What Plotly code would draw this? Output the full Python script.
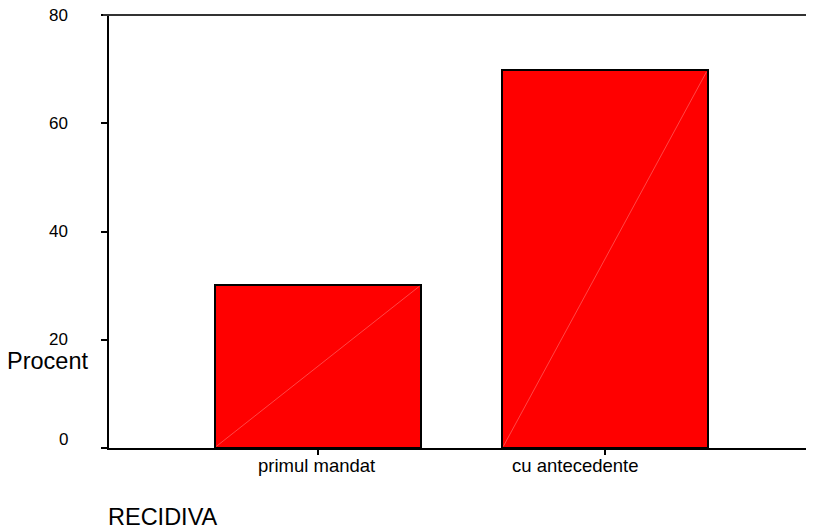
import plotly.graph_objects as go

categories = ["primul mandat", "cu antecedente"]
values = [30.2, 69.8]
y_ticks = [0, 20, 40, 60, 80]
y_tick_labels = ["0", "20", "40", "60", "80"]
y_title = "Procent"
x_title = "RECIDIVA"

FONT = "Arial, Liberation Sans, sans-serif"
BAR_W = 0.718
xs = list(range(len(categories)))

fig = go.Figure()
fig.add_trace(go.Bar(
    x=xs, y=values, width=BAR_W,
    marker=dict(color="#ff0000", line=dict(color="black", width=2)),
    hoverinfo="skip", showlegend=False,
))
# faint diagonal inside each bar (from bottom-left to top-right)
for xi, v in zip(xs, values):
    fig.add_trace(go.Scatter(
        x=[xi - BAR_W / 2 + 0.005, xi + BAR_W / 2 - 0.005], y=[0.3, v - 0.3],
        mode="lines", line=dict(color="rgba(255,140,140,0.5)", width=1),
        hoverinfo="skip", showlegend=False,
    ))

# y tick labels as annotations (SPSS-like placement)
for tv, tl in zip(y_ticks, y_tick_labels):
    fig.add_annotation(
        x=0, xref="paper", y=tv, yref="y", text=tl, showarrow=False,
        xanchor="right", yanchor="middle", xshift=-39,
        yshift=9 if tv == 0 else 0,
        font=dict(family=FONT, size=17, color="black"),
    )

# x tick labels as annotations
x_label_shift = [-1, -29]
for xi, lab, sh in zip(xs, categories, x_label_shift):
    fig.add_annotation(
        x=xi, xref="x", y=0, yref="paper", text=lab, showarrow=False,
        xanchor="center", yanchor="top", xshift=sh, yshift=-5,
        font=dict(family=FONT, size=18.5, color="black"),
    )

fig.add_annotation(
    x=0, xref="paper", y=(448 - 360.5) / 433, yref="paper", text=y_title,
    showarrow=False, xanchor="left", yanchor="middle", xshift=-104,
    font=dict(family=FONT, size=23.5, color="black"),
)
fig.add_annotation(
    x=0, xref="paper", y=(448 - 517) / 433, yref="paper", text=x_title,
    showarrow=False, xanchor="left", yanchor="middle", xshift=-3,
    font=dict(family=FONT, size=23.5, color="black"),
)

# top frame line
fig.add_shape(type="line", xref="paper", yref="paper", x0=-6 / 704, x1=1, y0=1, y1=1,
              line=dict(color="#333333", width=2))
# faint right edge
fig.add_shape(type="line", xref="paper", yref="paper", x0=1, x1=1, y0=0, y1=1,
              line=dict(color="#d0d0d0", width=1))

# page body has an 8px margin; compensate so the plot area lands where the reference has it
fig.update_layout(
    width=806, height=522,
    margin=dict(l=101, r=1, t=7, b=82),
    paper_bgcolor="white", plot_bgcolor="white",
    bargap=0,
    font=dict(family=FONT, color="black"),
)
fig.update_xaxes(
    range=[-0.728, 1.725], tickvals=xs, ticktext=["", ""],
    showline=True, linecolor="black", linewidth=2,
    ticks="outside", ticklen=5, tickwidth=1.5, tickcolor="black",
    showgrid=False, zeroline=False, fixedrange=True,
)
fig.update_yaxes(
    range=[0, 80], tickvals=y_ticks, ticktext=[""] * len(y_ticks),
    showline=True, linecolor="black", linewidth=2,
    ticks="outside", ticklen=6, tickwidth=2, tickcolor="black",
    showgrid=False, zeroline=False, fixedrange=True,
)

fig.write_html("out.html", config={"displayModeBar": False})
